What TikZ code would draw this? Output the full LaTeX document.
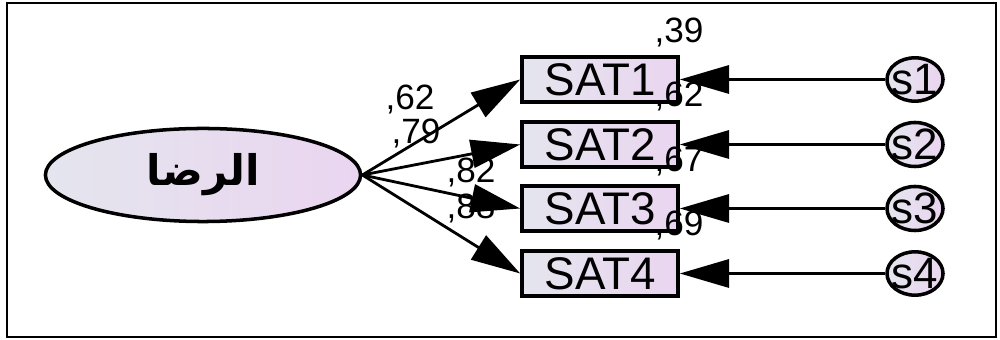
\documentclass[tikz,border=0pt]{standalone}
\usepackage{fontspec}
\setmainfont{Liberation Sans}
\newfontfamily\arabicfont[Script=Arabic]{DejaVu Sans}
\TeXXeTstate=1
\usetikzlibrary{arrows.meta,shapes.geometric}

\definecolor{shadeleft}{HTML}{E4E5EE}
\definecolor{shaderight}{HTML}{EAD5F0}

\begin{document}
\begin{tikzpicture}[x=0.01cm,y=-0.01cm,
    path/.style={-{Triangle[length=14pt,width=8pt]},line width=0.8pt},
    obsbox/.style={draw,line width=1pt,rectangle,minimum width=1.56cm,minimum height=0.45cm,inner sep=0pt,
        left color=shadeleft,right color=shaderight,font=\fontsize{13}{15}\selectfont},
    errnode/.style={draw,line width=1pt,ellipse,minimum width=0.56cm,minimum height=0.38cm,inner sep=0pt,
        left color=shadeleft,right color=shaderight,font=\fontsize{12.5}{14}\selectfont},
    coef/.style={inner sep=0pt,font=\fontsize{10}{12}\selectfont}]
        \useasboundingbox (0,0) rectangle (1000,340);

        % Frame
        \draw[line width=0.8pt] (7,3) rectangle (996,337);

        % Latent variable
        \node[draw,line width=1pt,ellipse,minimum width=3.15cm,minimum height=0.93cm,inner sep=0pt,
            left color=shadeleft,right color=shaderight] (lat) at (203,175)
            {\fontsize{12}{14}\selectfont\arabicfont\bfseries\beginR الرضا\endR};

        % Indicators and errors
        \foreach \i/\y in {1/79.5,2/144.5,3/208.5,4/273.5} {
            \node[obsbox] (sat\i) at (600,\y) {SAT\i};
            \node[errnode] (s\i) at (915,\y) {\makebox[0pt]{s\i}};
            \draw[path] (lat.east) -- (sat\i.west);
            \draw[path] (s\i.west) -- (sat\i.east);
        }

        % Loadings
        \node[coef] (l1) at (410,99) {,62};
        \node[coef] (l2) at (416,133) {,79};
        \node[coef] (l3) at (471,172) {,82};
        \node[coef] (l4) at (471,208) {,88};

        % Squared correlations
        \node[coef] (r1) at (679,32) {,39};
        \node[coef] (r2) at (679,96) {,62};
        \node[coef] (r3) at (679,161) {,67};
        \node[coef] (r4) at (679,225) {,69};
    \end{tikzpicture}
\end{document}
